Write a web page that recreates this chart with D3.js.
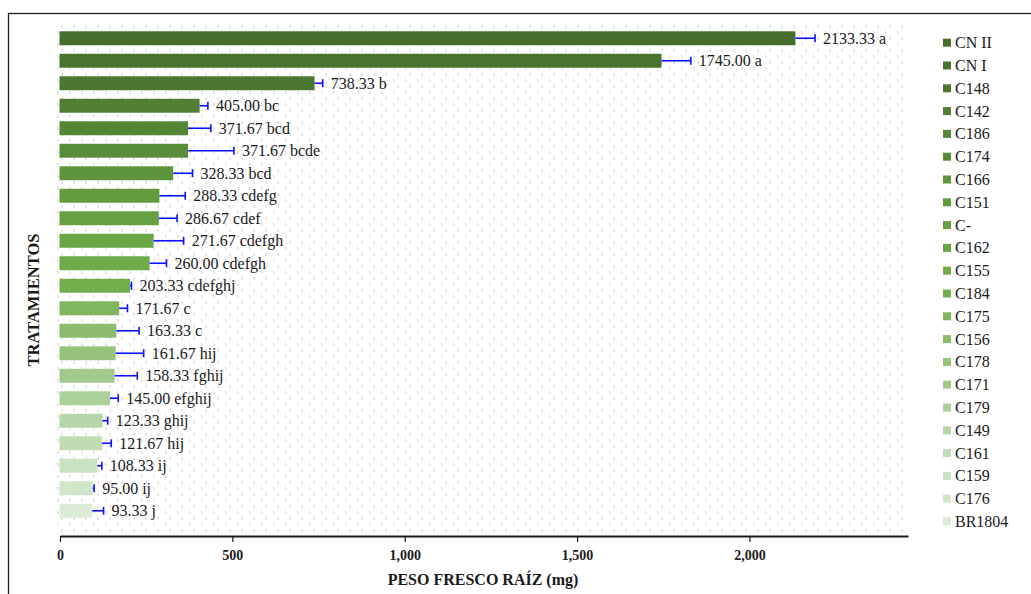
<!DOCTYPE html>
<html>
<head>
<meta charset="utf-8">
<script src="https://cdn.jsdelivr.net/npm/d3@7"></script>
<style>
  html, body { margin: 0; padding: 0; background: #ffffff; }
  svg { display: block; }
</style>
</head>
<body>
<svg id="chart" width="1031" height="594" font-family="Liberation Serif"></svg>
<script>
// Treatments, listed from top to bottom
const categories = ["CN II", "CN I", "C148", "C142", "C186", "C174", "C166", "C151", "C-", "C162", "C155",
  "C184", "C175", "C156", "C178", "C171", "C179", "C149", "C161", "C159", "C176", "BR1804"];

// Mean root fresh weight (mg)
const means = [2133.33, 1745.00, 738.33, 405.00, 371.67, 371.67, 328.33, 288.33, 286.67, 271.67, 260.00,
  203.33, 171.67, 163.33, 161.67, 158.33, 145.00, 123.33, 121.67, 108.33, 95.00, 93.33];

// Standard error (mg), drawn on the positive side only
const errors = [57, 85, 24, 24, 66, 133, 56, 75, 53, 87, 49,
  4, 24, 66, 81, 66, 24, 15, 27, 13, 4, 33];

// Significance groups
const groups = ["a", "a", "b", "bc", "bcd", "bcde", "bcd", "cdefg", "cdef", "cdefgh", "cdefgh",
  "cdefghj", "c", "c", "hij", "fghij", "efghij", "ghij", "hij", "ij", "ij", "j"];

// Monochrome green shades, darkest first
const colors = ["#466d2d", "#49722f", "#4c7731", "#517f34", "#558636", "#598c39", "#5e943b", "#629a3e",
  "#66a040", "#6aa643", "#6eab46", "#72ae4b", "#80b65f", "#8bbc6e", "#97c37d", "#a2c98b",
  "#acd09a", "#b6d6a7", "#c0dcb4", "#c9e2c0", "#d2e6ca", "#dbebd5"];

const xTicks = [0, 500, 1000, 1500, 2000];

const FONT = "Liberation Serif";
const svg = d3.select("#chart");

// Outer chart frame
svg.append("rect")
  .attr("x", 8.5).attr("y", 13.5)
  .attr("width", 1100).attr("height", 700)
  .attr("fill", "#ffffff")
  .attr("stroke", "#1f1f1f").attr("stroke-width", 1.3);

// Light dotted texture for the plot area
const defs = svg.append("defs");
const pat = defs.append("pattern")
  .attr("id", "texture")
  .attr("patternUnits", "userSpaceOnUse")
  .attr("width", 12).attr("height", 12);
pat.append("rect").attr("width", 12).attr("height", 12).attr("fill", "#ffffff");
[[2, 1], [1, 2], [2, 3], [9, 7], [10, 8], [9, 9]].forEach(([px, py]) => {
  pat.append("rect").attr("x", px).attr("y", py).attr("width", 1).attr("height", 1).attr("fill", "#cfcfcf");
});

const plot = { left: 57, right: 908, top: 22, bottom: 534 };

svg.append("rect")
  .attr("x", plot.left).attr("y", plot.top)
  .attr("width", plot.right - plot.left)
  .attr("height", plot.bottom - plot.top)
  .attr("fill", "url(#texture)");

const x = d3.scaleLinear().domain([0, 2460]).range([60, 908]);
const y = d3.scaleBand().domain(categories).range([27, 522]).paddingInner(0.38).paddingOuter(0.19);

const rows = categories.map((c, i) => ({ c, v: means[i], e: errors[i], g: groups[i], col: colors[i] }));

// Bars
svg.append("g").selectAll("rect")
  .data(rows).join("rect")
  .attr("x", x(0) - 0.5)
  .attr("y", d => y(d.c))
  .attr("width", d => x(d.v) - x(0) + 0.5)
  .attr("height", y.bandwidth())
  .attr("fill", d => d.col);

// Error bars
const eb = svg.append("g").attr("stroke", "#0a10ff").attr("stroke-width", 1.6);
rows.forEach(d => {
  const cy = y(d.c) + y.bandwidth() / 2;
  eb.append("line").attr("x1", x(d.v)).attr("x2", x(d.v + d.e)).attr("y1", cy).attr("y2", cy);
  eb.append("line").attr("x1", x(d.v + d.e)).attr("x2", x(d.v + d.e)).attr("y1", cy - 4).attr("y2", cy + 4);
});

// Value labels
svg.append("g").selectAll("text")
  .data(rows).join("text")
  .attr("x", d => x(d.v + d.e) + 8)
  .attr("y", d => y(d.c) + y.bandwidth() / 2 + 5.5)
  .attr("font-family", FONT)
  .attr("font-size", 16)
  .attr("fill", "#1a1a1a")
  .text(d => d.v.toFixed(2) + " " + d.g);

// X axis
const xAxis = svg.append("g")
  .attr("transform", "translate(0,536)")
  .call(d3.axisBottom(x).tickValues(xTicks).tickFormat(d3.format(",")).tickSize(6).tickSizeOuter(0))
  .attr("font-family", FONT);
xAxis.select(".domain").attr("stroke", "#1a1a1a").attr("stroke-width", 1.8);
xAxis.selectAll(".tick line").attr("stroke", "#1a1a1a").attr("stroke-width", 1.2);
xAxis.selectAll(".tick text")
  .attr("y", 14)
  .attr("font-family", FONT)
  .attr("font-size", 14)
  .attr("font-weight", "bold")
  .attr("fill", "#1a1a1a");

// Axis titles
svg.append("text")
  .attr("x", 483).attr("y", 585)
  .attr("text-anchor", "middle")
  .attr("font-family", FONT)
  .attr("font-size", 16)
  .attr("font-weight", "bold")
  .attr("fill", "#1a1a1a")
  .text("PESO FRESCO RAÍZ  (mg)");

svg.append("text")
  .attr("transform", "translate(39,300) rotate(-90)")
  .attr("text-anchor", "middle")
  .attr("font-family", FONT)
  .attr("font-size", 16.5)
  .attr("font-weight", "bold")
  .attr("fill", "#1a1a1a")
  .text("TRATAMIENTOS");

// Legend
const legend = svg.append("g");
rows.forEach((d, i) => {
  const cy = 42.7 + i * 22.8;
  legend.append("rect")
    .attr("x", 943).attr("y", cy - 4)
    .attr("width", 8).attr("height", 8)
    .attr("fill", d.col);
  legend.append("text")
    .attr("x", 955).attr("y", cy + 5.5)
    .attr("font-family", FONT)
    .attr("font-size", 16)
    .attr("fill", "#1a1a1a")
    .text(d.c);
});
</script>
</body>
</html>
